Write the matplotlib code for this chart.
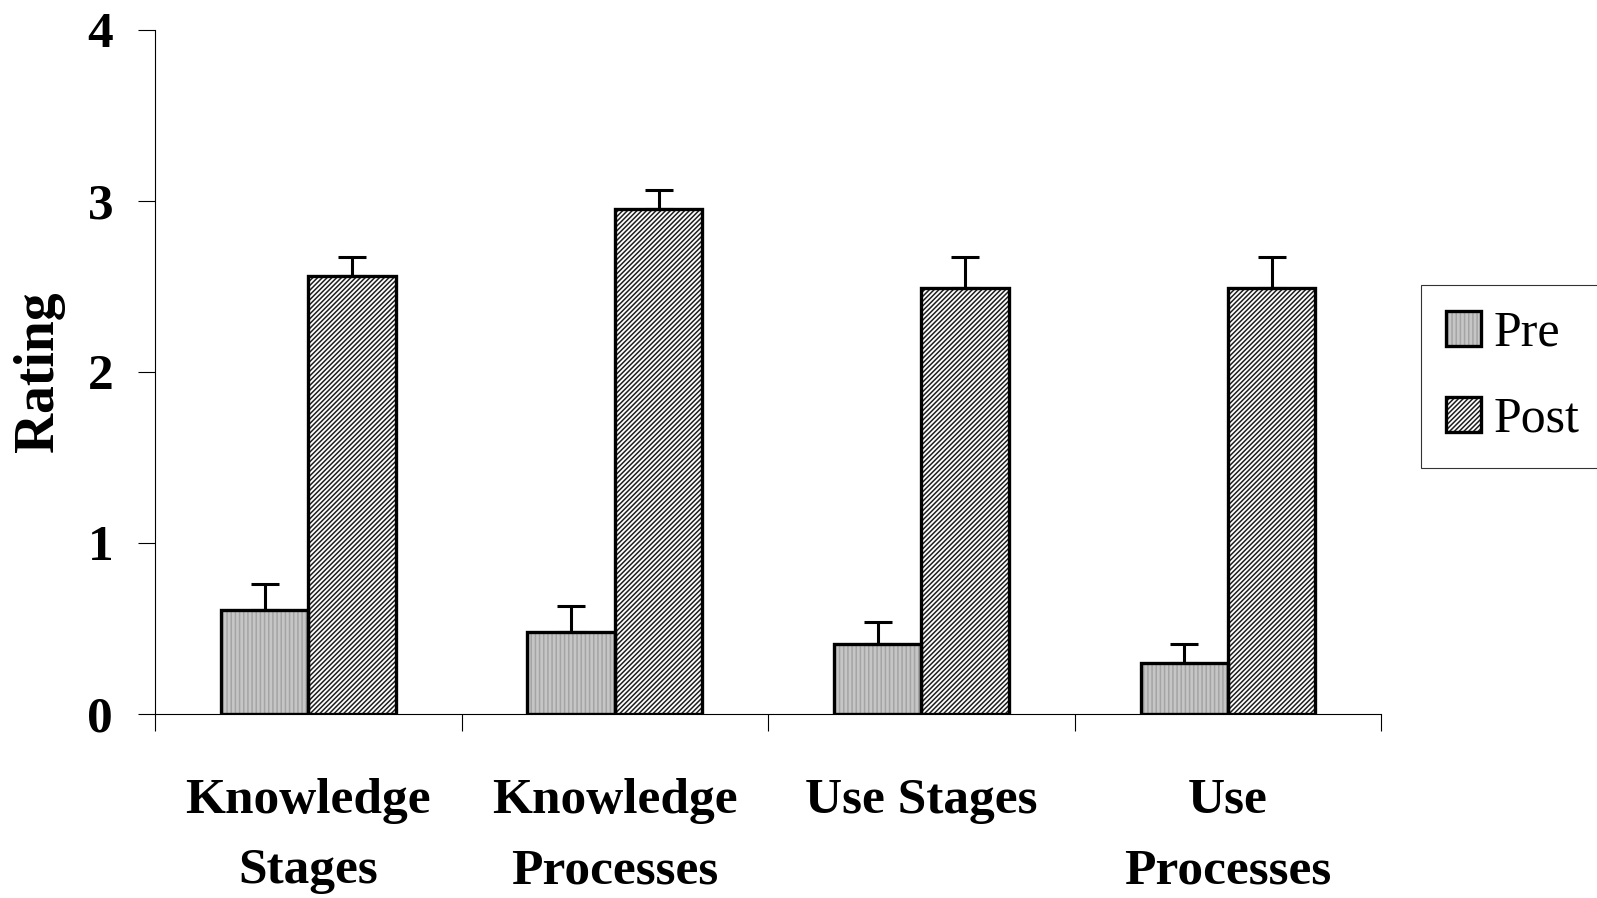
import matplotlib
matplotlib.use("Agg")
import numpy as np
import matplotlib.pyplot as plt
from matplotlib.patches import Patch
from matplotlib.legend_handler import HandlerTuple


categories = ["Knowledge\nStages", "Knowledge\nProcesses", "Use Stages", "Use\nProcesses"]
pre_values = [0.61, 0.48, 0.41, 0.30]
post_values = [2.56, 2.95, 2.49, 2.49]
pre_errors = [0.15, 0.15, 0.13, 0.11]
post_errors = [0.11, 0.11, 0.18, 0.18]
y_ticks = [0, 1, 2, 3, 4]

PRE_FACE = "#c6c6c6"
PRE_HATCH = "#a4a4a4"
POST_FACE = "#ffffff"
POST_HATCH = "#1e1e1e"

plt.rcParams["font.family"] = ["Liberation Serif", "DejaVu Serif"]
plt.rcParams["hatch.linewidth"] = 1.1


def main():
    fig = plt.figure(figsize=(15.97, 8.98), dpi=100)
    ax = fig.add_axes([0.097, 0.205, 0.768, 0.762])

    x = np.arange(len(categories)) + 0.5
    width = 0.285

    # fill with hatch first, black outline on top
    ax.bar(x - width / 2, pre_values, width, color=PRE_FACE, edgecolor=PRE_HATCH,
           hatch="||||", linewidth=0, zorder=2)
    ax.bar(x + width / 2, post_values, width, color=POST_FACE, edgecolor=POST_HATCH,
           hatch="///////", linewidth=0, zorder=2)
    ax.bar(x - width / 2, pre_values, width, fill=False, edgecolor="black",
           linewidth=2.4, zorder=3)
    ax.bar(x + width / 2, post_values, width, fill=False, edgecolor="black",
           linewidth=2.4, zorder=3)

    zeros = [0] * len(categories)
    ax.errorbar(x - width / 2, pre_values, yerr=[zeros, pre_errors], fmt="none",
                ecolor="black", elinewidth=2.2, capsize=10, capthick=2.2, zorder=4)
    ax.errorbar(x + width / 2, post_values, yerr=[zeros, post_errors], fmt="none",
                ecolor="black", elinewidth=2.2, capsize=10, capthick=2.2, zorder=4)

    ax.set_xlim(0, len(categories))
    ax.set_ylim(0, 4)

    ax.set_yticks(y_ticks)
    ax.set_yticklabels([str(t) for t in y_ticks], fontsize=37, fontweight="bold")
    ax.tick_params(axis="y", direction="out", length=12, width=0.8, pad=18)

    ax.set_xticks(np.arange(len(categories) + 1))
    ax.set_xticklabels([])
    ax.tick_params(axis="x", which="major", direction="out", length=12, width=0.8)
    ax.set_xticks(x, minor=True)
    ax.set_xticklabels(categories, minor=True, fontsize=37, fontweight="bold",
                       linespacing=1.7)
    ax.tick_params(axis="x", which="minor", length=0, pad=46)

    for side in ["top", "right"]:
        ax.spines[side].set_visible(False)
    for side in ["left", "bottom"]:
        ax.spines[side].set_linewidth(0.8)

    ax.set_ylabel("Rating", fontsize=40, fontweight="bold", labelpad=16)

    handles = [
        (Patch(facecolor=PRE_FACE, edgecolor=PRE_HATCH, hatch="||||", linewidth=0),
         Patch(fill=False, edgecolor="black", linewidth=2.4)),
        (Patch(facecolor=POST_FACE, edgecolor=POST_HATCH, hatch="///////", linewidth=0),
         Patch(fill=False, edgecolor="black", linewidth=2.4)),
    ]
    leg = fig.legend(handles, ["Pre", "Post"], handler_map={tuple: HandlerTuple(ndivide=1)},
                     loc="upper left", bbox_to_anchor=(1421 / 1597, 1 - 285 / 898),
                     fontsize=36, frameon=True, fancybox=False, borderaxespad=0,
                     handlelength=0.7, handleheight=0.7, handletextpad=0.25,
                     labelspacing=0.8, borderpad=0.5)
    leg.get_frame().set_edgecolor("black")
    leg.get_frame().set_linewidth(0.8)

    fig.savefig("out.png", dpi=100)


if __name__ == "__main__":
    main()
